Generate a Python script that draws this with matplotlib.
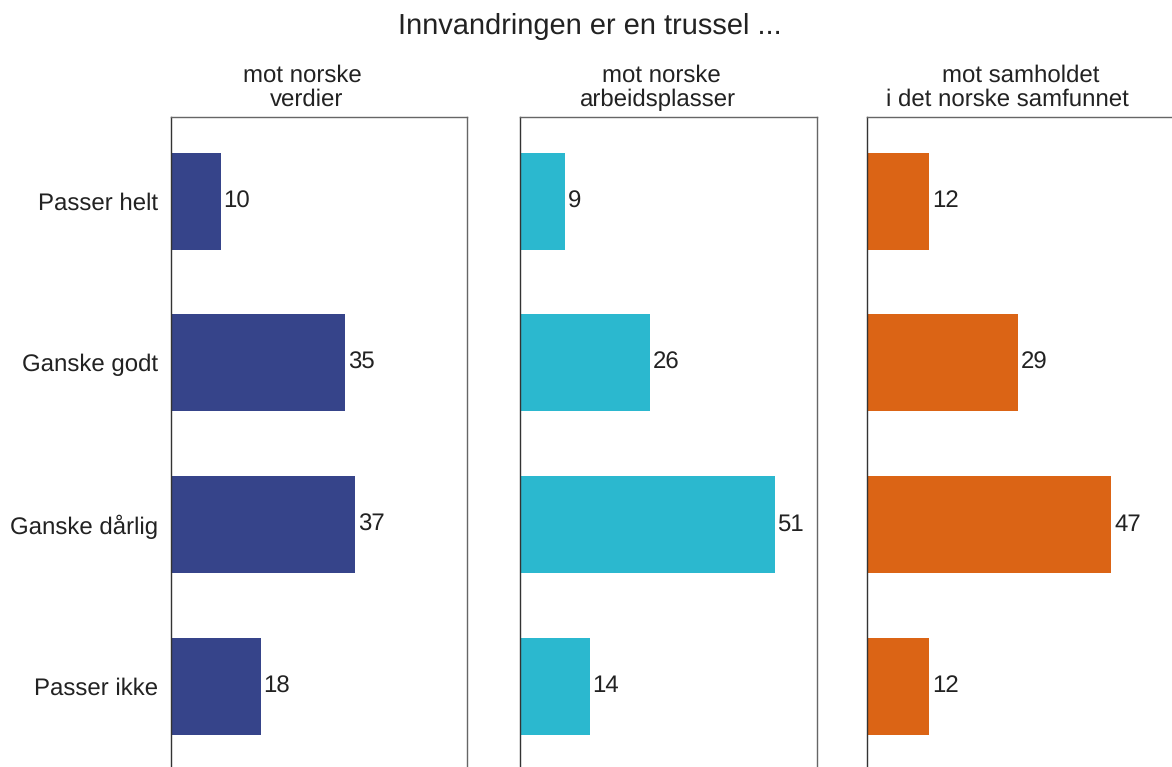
import numpy as np
import matplotlib.pyplot as plt

plt.rcParams['font.family'] = ['Liberation Sans', 'DejaVu Sans']
plt.rcParams['text.hinting'] = 'no_hinting'
plt.rcParams['text.hinting_factor'] = 1

categories = ['Passer helt', 'Ganske godt', 'Ganske dårlig', 'Passer ikke']
panel_titles = [['mot norske', 'verdier'],
                ['mot norske', 'arbeidsplasser'],
                ['mot samholdet', 'i det norske samfunnet']]
verdier = [10, 35, 37, 18]
arbeidsplasser = [9, 26, 51, 14]
samhold = [12, 29, 47, 12]
colors = ['#36448a', '#2bb8cf', '#db6415']

W, H = 1172, 767
fig = plt.figure(figsize=(W / 100, H / 100), dpi=100)
fig.text(590 / W, 1 - 26 / H, 'Innvandringen er en trussel ...',
         ha='center', va='center', fontsize=21, color='#222222')

# axes boxes in pixels (left, width), and title line centres in pixels
boxes = [(171, 296), (520, 297), (867, 309)]
title_x = [(302, 307), (661, 658), (1021, 1007)]
top = 1 - 117 / H
y = np.arange(len(categories))

for i, vals in enumerate([verdier, arbeidsplasser, samhold]):
    left, width = boxes[i]
    ax = fig.add_axes([left / W, 0, width / W, top])
    ax.barh(y, vals, height=0.6, color=colors[i])
    ax.set_xlim(0, 59.4)
    ax.set_ylim(3.5, -0.52)
    ax.set_xticks([])
    ax.set_yticks(y)
    if i == 0:
        ax.set_yticklabels(categories, fontsize=17, color='#222222')
    else:
        ax.set_yticklabels([])
    ax.tick_params(axis='y', length=0, pad=9.5)
    for v, yy in zip(vals, y):
        ax.text(v + 0.5, yy, str(v), va='center', ha='left', fontsize=17, color='#222222')
    ax.spines['bottom'].set_visible(False)
    for s in ['top', 'right']:
        ax.spines[s].set_color('#666666')
        ax.spines[s].set_linewidth(1)
    ax.spines['left'].set_color('#333333')
    ax.spines['left'].set_linewidth(1)
    for line, xc, yc in zip(panel_titles[i], title_x[i], [76, 100]):
        fig.text(xc / W, 1 - yc / H, line, ha='center', va='center',
                 fontsize=17, color='#222222')

fig.savefig('out.png', dpi=100)
